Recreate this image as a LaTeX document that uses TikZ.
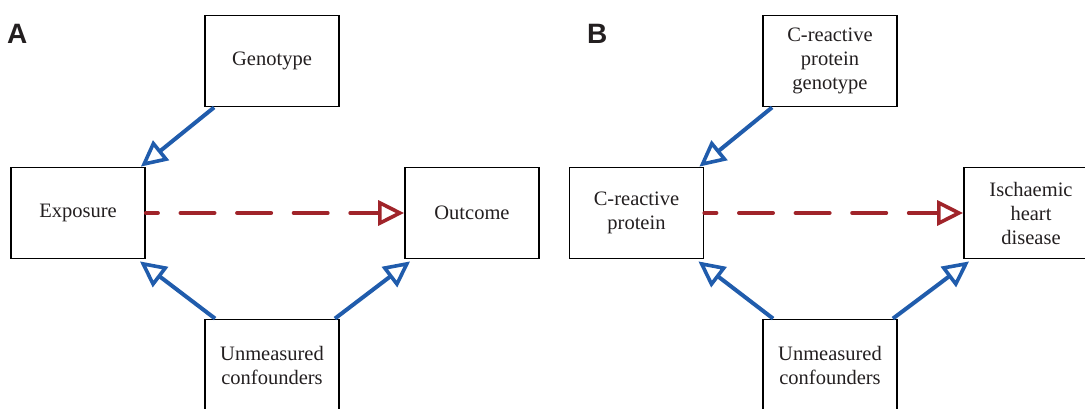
\documentclass[tikz,border=0pt]{standalone}
\usepackage{fontspec}
\setmainfont{Liberation Serif}
\newfontfamily\panelfont{Liberation Sans}
\usetikzlibrary{arrows.meta}
\definecolor{pathblue}{RGB}{32,92,172}
\definecolor{pathred}{RGB}{160,36,42}
\definecolor{textgrey}{RGB}{35,31,32}
\tikzset{
  box/.style={draw=black, line width=1.8pt, minimum width=134pt, minimum height=91pt,
    inner sep=0pt, align=center, text=textgrey,
    font=\fontsize{20.5}{24}\selectfont},
  opentip/.style={-{Triangle[open, length=26pt, width=25pt, line width=3.6pt]}},
  causal/.style={draw=pathblue, line width=4pt, opentip},
  effect/.style={draw=pathred, line width=4pt, line cap=round,
    dash pattern=on 34pt off 22.6pt, dash phase=22pt, opentip},
  panel/.style={anchor=base west, inner sep=0pt, text=textgrey,
    font=\panelfont\bfseries\fontsize{28}{30}\selectfont}
}
\begin{document}
\begin{tikzpicture}[x=1pt, y=-1pt]
  \useasboundingbox (0,0) rectangle (1085,409);
  \clip (0,0) rectangle (1085,409);

  % panel A: generic instrumental-variable diagram
  \node[panel] (labA) at (7,44) {A};
  \node[box] (geno) at (272,61) {Genotype};
  \node[box] (expo) at (78,213) {Exposure};
  \node[box] (outc) at (472,213) {Outcome};
  \node[box] (conf) at (272,365) {Unmeasured\\confounders};

  \draw[causal] ([xshift=10pt]geno.south west) -- ([xshift=-5pt]expo.north east);
  \draw[causal] ([xshift=11pt]conf.north west) -- ([xshift=-6pt,yshift=-2pt]expo.south east);
  \draw[causal] ([xshift=-5pt]conf.north east) -- ([xshift=6pt,yshift=-2pt]outc.south west);
  \draw[effect] (expo.east) -- (outc.west);

  % panel B: C-reactive protein and ischaemic heart disease
  \node[panel] (labB) at (587,44) {B};
  \node[box] (crpg) at (830,61) {C-reactive\\protein\\genotype};
  \node[box] (crp) at (636.5,213) {C-reactive\\protein};
  \node[box] (ihd) at (1031,213) {Ischaemic\\heart\\disease};
  \node[box] (conf2) at (830,365) {Unmeasured\\confounders};

  \draw[causal] ([xshift=10pt]crpg.south west) -- ([xshift=-5pt]crp.north east);
  \draw[causal] ([xshift=11pt]conf2.north west) -- ([xshift=-6pt,yshift=-2pt]crp.south east);
  \draw[causal] ([xshift=-5pt]conf2.north east) -- ([xshift=6pt,yshift=-2pt]ihd.south west);
  \draw[effect] (crp.east) -- (ihd.west);
\end{tikzpicture}
\end{document}
